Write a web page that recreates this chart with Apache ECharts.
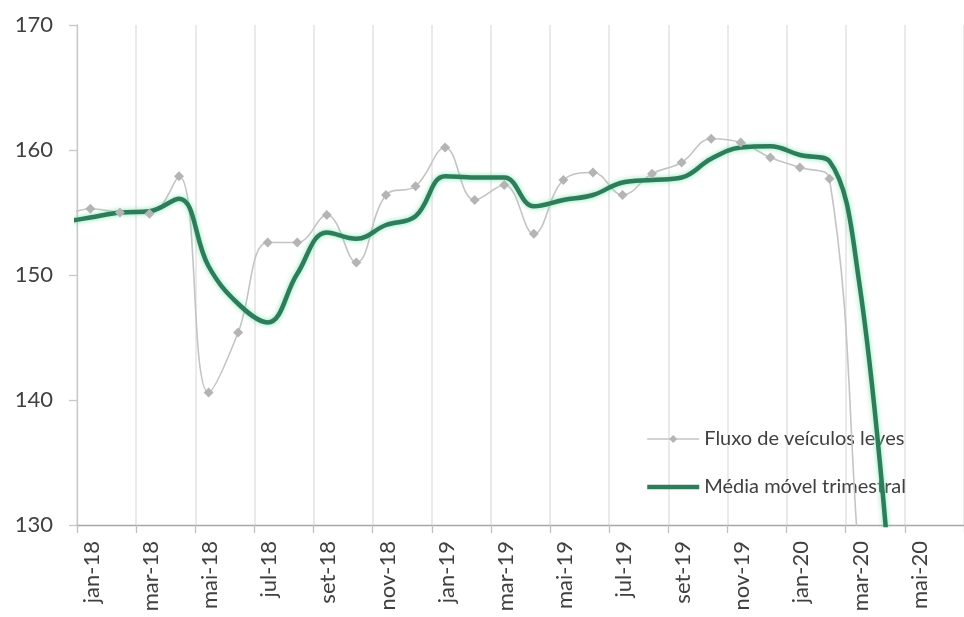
<!DOCTYPE html>
<html>
<head>
<meta charset="utf-8">
<script src="https://cdn.jsdelivr.net/npm/echarts@6/dist/echarts.min.js"></script>
<style>
html,body{margin:0;padding:0;background:#fff;}
#chart{width:964px;height:617px;}
</style>
</head>
<body>
<div id="chart"></div>
<script>
// Axis tick labels (one per month, labels shown every 2 months)
const monthLabels = ['jan-18','fev-18','mar-18','abr-18','mai-18','jun-18','jul-18','ago-18','set-18','out-18','nov-18','dez-18',
  'jan-19','fev-19','mar-19','abr-19','mai-19','jun-19','jul-19','ago-19','set-19','out-19','nov-19','dez-19',
  'jan-20','fev-20','mar-20','abr-20','mai-20','jun-20'];
// Data months: dez-17 .. abr-20
const dataMonths = ['dez-17','jan-18','fev-18','mar-18','abr-18','mai-18','jun-18','jul-18','ago-18','set-18','out-18','nov-18','dez-18',
  'jan-19','fev-19','mar-19','abr-19','mai-19','jun-19','jul-19','ago-19','set-19','out-19','nov-19','dez-19',
  'jan-20','fev-20','mar-20','abr-20'];
const fluxo = [154.6,155.3,155.0,154.9,157.9,140.6,145.4,152.6,152.6,154.8,151.0,156.4,157.1,
  160.2,156.0,157.2,153.3,157.6,158.2,156.4,158.1,159.0,160.9,160.6,159.4,
  158.6,157.7,127.0,95.0];
const media = [154.2,154.6,155.0,155.1,156.1,150.7,147.7,146.2,150.1,153.4,152.9,154.0,154.7,
  157.9,157.8,157.8,155.5,156.0,156.4,157.4,157.6,157.8,159.3,160.2,160.3,
  159.6,159.1,149.5,127.0];
const yTicks = [130,140,150,160,170];

// month index position (mid-month) relative to jan-18 start
function pos(i){ const k = monthLabels.indexOf(dataMonths[i]); return (k >= 0 ? k : -1) + 0.45; }

const chart = echarts.init(document.getElementById('chart'));
const font = 'Lato, "Open Sans", sans-serif';
chart.setOption({
  animation: false,
  backgroundColor: '#ffffff',
  grid: {left: 77, top: 25, width: 900, height: 500, containLabel: false},
  xAxis: [{
    type: 'value', min: 0, max: monthLabels.length, interval: 2,
    axisLine: {show: true, lineStyle: {color: '#a6a6a6', width: 1.3}},
    axisTick: {show: true, length: 8, lineStyle: {color: '#bfbfbf', width: 1.3}},
    axisLabel: {show: false},
    splitLine: {show: true, lineStyle: {color: '#e3e3e3', width: 1.5}}
  }, {
    type: 'category', data: monthLabels, boundaryGap: true, position: 'bottom',
    axisLine: {show: false}, axisTick: {show: false}, splitLine: {show: false},
    axisLabel: {interval: 1, rotate: 90, margin: 16, fontSize: 22, color: '#404040', fontFamily: font}
  }],
  yAxis: {
    type: 'value', min: yTicks[0], max: yTicks[yTicks.length-1], interval: 10,
    axisLine: {show: true, lineStyle: {color: '#c8c8c8', width: 1.3}},
    axisTick: {show: true, length: 8, lineStyle: {color: '#c8c8c8', width: 1.3}},
    splitLine: {show: false},
    axisLabel: {margin: 24, fontSize: 22, color: '#404040', fontFamily: font}
  },
  legend: {
    z: 1,
    orient: 'vertical', left: 645, top: 429, padding: 0,
    itemWidth: 52, itemHeight: 10, itemGap: 28,
    textStyle: {fontSize: 20, color: '#404040', fontFamily: font, lineHeight: 20},
    data: [
      {name: 'Fluxo de veículos leves', lineStyle: {width: 1.6}},
      {name: 'Média móvel trimestral', lineStyle: {width: 4.5},
       itemStyle: {color: 'transparent', borderColor: 'transparent', borderWidth: 0}}
    ]
  },
  series: [{
    name: 'Fluxo de veículos leves', type: 'line', xAxisIndex: 0,
    smooth: 0.4, clip: true,
    symbol: 'diamond', symbolSize: 10,
    itemStyle: {color: '#b4b4b4'},
    lineStyle: {color: '#c4c4c4', width: 1.6},
    data: fluxo.map((v, i) => [pos(i), v])
  }, {
    name: 'Média móvel trimestral', type: 'line', xAxisIndex: 0,
    smooth: 0.4, clip: true, symbol: 'none',
    itemStyle: {color: '#2e7d5a'},
    lineStyle: {color: '#2e7d5a', width: 4.5, shadowColor: 'rgba(110,225,170,0.85)', shadowBlur: 5},
    data: media.map((v, i) => [pos(i), v])
  }]
});
</script>
</body>
</html>
